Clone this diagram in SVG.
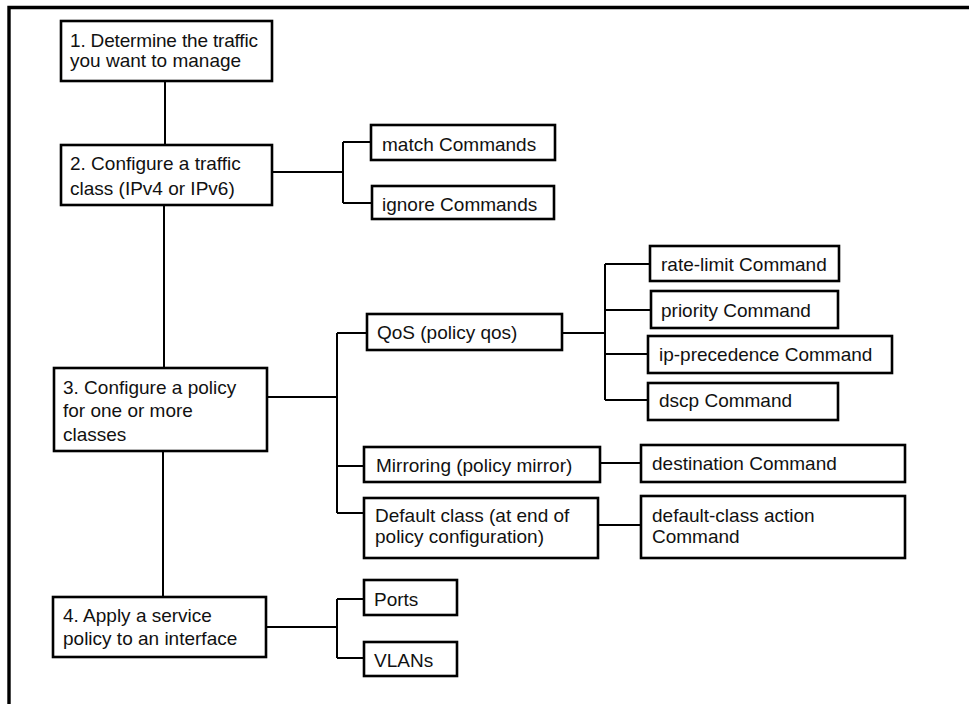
<svg xmlns="http://www.w3.org/2000/svg" width="969" height="704" viewBox="0 0 969 704">
<style>
.box{fill:#fff;stroke:#000;stroke-width:2.6}
.t{font-family:"Liberation Sans",Arial,sans-serif;font-size:19px;fill:#111}
.c{fill:none;stroke:#000;stroke-width:2}
.frame{fill:none;stroke:#000;stroke-width:3.4}
</style>
<rect width="969" height="704" fill="#fff"/>
<path class="frame" d="M9,704 V7.5 H969"/>
<g id="connectors">
<path class="c" d="M165,81 V145 M164,205 V368 M163,451 V597"/>
<path class="c" d="M273,172 H343 M343,142 V203 M343,142 H371 M343,203 H372"/>
<path class="c" d="M267,397 H338 M337,333 V513 M337,333 H367 M337,466 H364 M337,513 H364"/>
<path class="c" d="M562,333 H605 M605,264 V400 M605,264 H650 M605,310 H651 M605,354 H648 M605,400 H648"/>
<path class="c" d="M600,463 H641 M598,525 H641"/>
<path class="c" d="M266,627 H337 M337,599 V658 M337,599 H364 M337,658 H364"/>
</g>
<g id="n1"><rect class="box" x="61" y="21" width="211" height="60"/><text class="t" x="70" y="47" textLength="188" lengthAdjust="spacing">1. Determine the traffic</text><text class="t" x="70" y="67">you want to manage</text></g>
<g id="n2"><rect class="box" x="61" y="145" width="211" height="60"/><text class="t" x="70" y="170">2. Configure a traffic</text><text class="t" x="70" y="195">class (IPv4 or IPv6)</text></g>
<g id="n3"><rect class="box" x="54" y="368" width="213" height="83"/><text class="t" x="63" y="394">3. Configure a policy</text><text class="t" x="63" y="417">for one or more</text><text class="t" x="63" y="441">classes</text></g>
<g id="n4"><rect class="box" x="53" y="597" width="213" height="60"/><text class="t" x="63" y="622">4. Apply a service</text><text class="t" x="63" y="645">policy to an interface</text></g>
<g id="match"><rect class="box" x="371" y="125" width="184" height="35"/><text class="t" x="382" y="151">match Commands</text></g>
<g id="ignore"><rect class="box" x="372" y="186" width="182" height="33"/><text class="t" x="382" y="211">ignore Commands</text></g>
<g id="qos"><rect class="box" x="367" y="314" width="195" height="36"/><text class="t" x="377" y="339">QoS (policy qos)</text></g>
<g id="ratelimit"><rect class="box" x="650" y="246" width="189" height="35"/><text class="t" x="661" y="271">rate-limit Command</text></g>
<g id="priority"><rect class="box" x="651" y="291" width="187" height="37"/><text class="t" x="661" y="317">priority Command</text></g>
<g id="ipprec"><rect class="box" x="648" y="336" width="244" height="37"/><text class="t" x="659" y="361">ip-precedence Command</text></g>
<g id="dscp"><rect class="box" x="648" y="383" width="190" height="37"/><text class="t" x="659" y="407">dscp Command</text></g>
<g id="mirror"><rect class="box" x="364" y="447" width="236" height="35"/><text class="t" x="376" y="472">Mirroring (policy mirror)</text></g>
<g id="destination"><rect class="box" x="641" y="445" width="264" height="37"/><text class="t" x="652" y="470">destination Command</text></g>
<g id="default"><rect class="box" x="364" y="498" width="234" height="60"/><text class="t" x="375" y="522">Default class (at end of</text><text class="t" x="375" y="543">policy configuration)</text></g>
<g id="defaultaction"><rect class="box" x="641" y="496" width="264" height="62"/><text class="t" x="652" y="522">default-class action</text><text class="t" x="652" y="543">Command</text></g>
<g id="ports"><rect class="box" x="364" y="580" width="93" height="35"/><text class="t" x="374" y="606">Ports</text></g>
<g id="vlans"><rect class="box" x="364" y="642" width="93" height="34"/><text class="t" x="374" y="667">VLANs</text></g>
</svg>
